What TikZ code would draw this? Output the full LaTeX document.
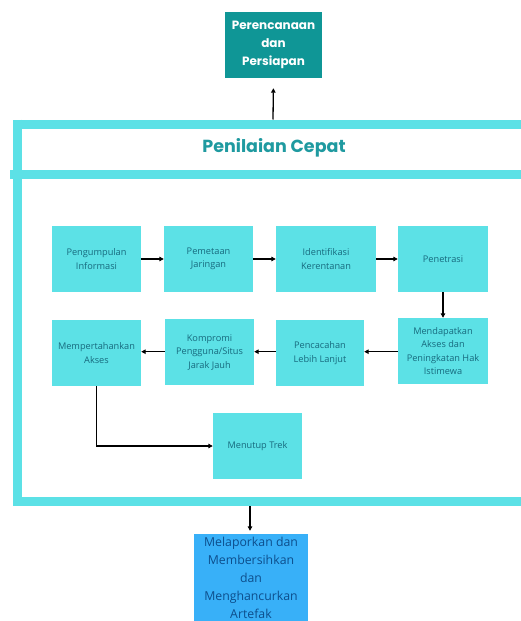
\documentclass[tikz,border=0pt]{standalone}
\usepackage{fontspec}
\setmainfont{Poppins}
\newfontfamily\boxfont{Open Sans}
\usetikzlibrary{arrows.meta}
\definecolor{cyanbox}{HTML}{5CE1E6}
\definecolor{tealbox}{HTML}{0F9696}
\definecolor{bluebox}{HTML}{38B0F8}
\definecolor{boxtext}{HTML}{176A7E}
\definecolor{titletext}{HTML}{1F9AA0}
\definecolor{bluetext}{HTML}{0D4E8C}
\tikzset{
  stepbox/.style={fill=cyanbox, draw=none, align=center, inner sep=1pt,
    minimum height=66pt, text=boxtext, font=\boxfont\fontsize{9.2}{13.5}\selectfont},
  arr/.style={-{Triangle[length=4.5pt,width=4.5pt]}, line width=1.3pt, black},
  frameline/.style={draw=cyanbox, line width=9pt}
}
\begin{document}
\begin{tikzpicture}[x=1pt,y=-1pt]
\clip (0,0) rectangle (521,621);
\fill[white] (0,0) rectangle (521,621);
% frame
\draw[frameline] (17.5,124) -- (540,124);
\draw[frameline] (17.5,119.5) -- (17.5,506);
\draw[frameline] (13,501.5) -- (540,501.5);
\draw[frameline] (10,174) -- (540,174);
\node (title) at (274,148) {\fontsize{17.5}{20}\selectfont\bfseries\color{titletext}Penilaian Cepat};
\coordinate (ftop) at (273,119.5);
\coordinate (fbot) at (250,506);
% top box
\node[fill=tealbox, minimum width=97pt, minimum height=66pt, align=center, text=white, inner sep=0pt,
  font=\fontsize{12}{18}\selectfont\bfseries] (plan) at (273.5,45) {Perencanaan\\dan\\Persiapan};
% row 1
\node[stepbox, minimum width=89pt] (a1) at (96.5,259) {Pengumpulan\\Informasi};
\node[stepbox, minimum width=89pt] (a2) at (208.5,259) {Pemetaan\\Jaringan};
\node[stepbox, minimum width=100pt] (a3) at (326,259) {Identifikasi\\Kerentanan};
\node[stepbox, minimum width=90pt] (a4) at (443,259) {Penetrasi};
% row 2
\node[stepbox, minimum width=90pt] (b4) at (443,351) {Mendapatkan\\Akses dan\\Peningkatan Hak\\Istimewa};
\node[stepbox, minimum width=88pt] (b3) at (320,353) {Pencacahan\\Lebih Lanjut};
\node[stepbox, minimum width=89pt] (b2) at (209.5,352) {Kompromi\\Pengguna/Situs\\Jarak Jauh};
\node[stepbox, minimum width=89pt] (b1) at (96.5,353) {Mempertahankan\\Akses};
% close
\node[stepbox, minimum width=89pt] (c1) at (257.5,446) {Menutup Trek};
% bottom box
\node[fill=bluebox, minimum width=114pt, minimum height=88pt, align=center, text=bluetext,
  font=\boxfont\fontsize{12.3}{18}\selectfont, inner sep=0pt] (rep) at (251,578)
  {Melaporkan dan\\Membersihkan\\dan\\Menghancurkan\\Artefak};
% arrows
\draw[arr, shorten >=10pt] (ftop) -- (plan.south);
\draw[arr] (a1) -- (a2);
\draw[arr] (a2) -- (a3);
\draw[arr] (a3) -- (a4);
\draw[arr] (a4) -- (b4);
\draw[arr] ([yshift=-0.7pt]b4.west) -- ([yshift=-0.7pt]b4.west -| b3.east);
\draw[arr] ([yshift=-0.7pt]b4.west -| b3.west) -- ([yshift=-0.7pt]b4.west -| b2.east);
\draw[arr] ([yshift=-0.7pt]b4.west -| b2.west) -- ([yshift=-0.7pt]b4.west -| b1.east);
\draw[arr] (b1.south) |- (c1.west);
\draw[arr, shorten >=3pt] (fbot) -- (fbot |- rep.north);
\end{tikzpicture}
\end{document}
